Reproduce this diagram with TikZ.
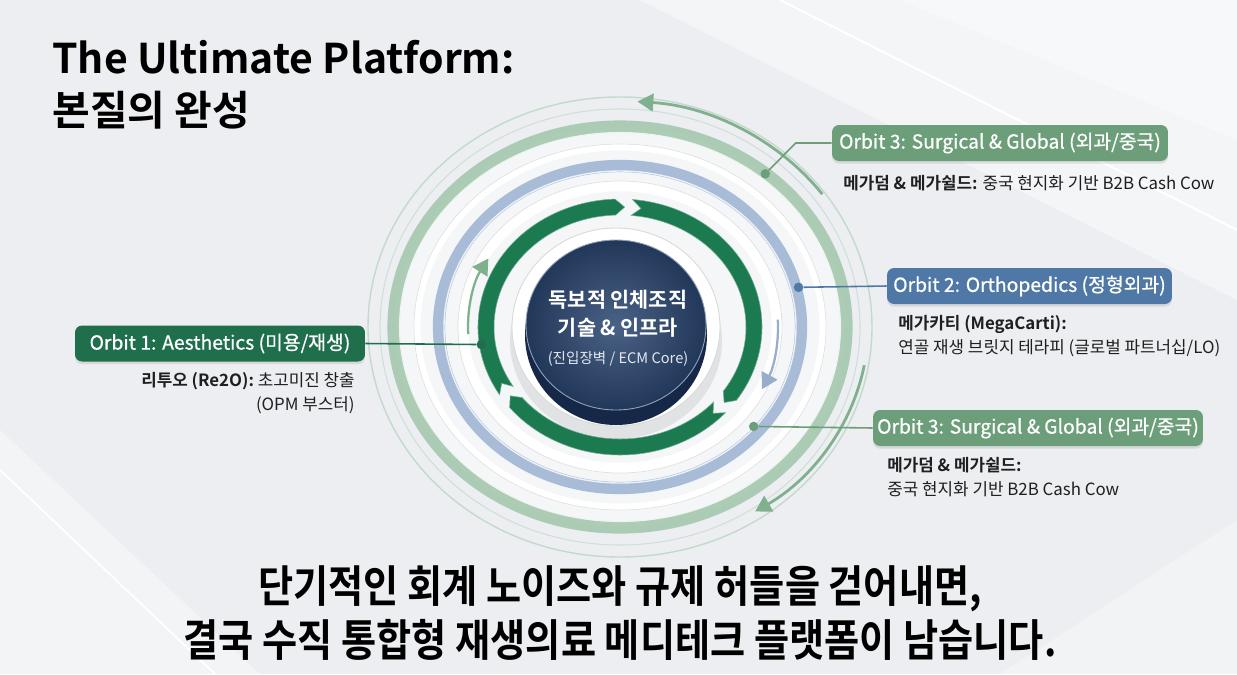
\documentclass[tikz,border=0pt]{standalone}
\usepackage{fontspec}
\setmainfont{Noto Sans CJK KR}[BoldFont={Noto Sans CJK KR Bold}]
\newfontfamily\narrowkr{Noto Sans CJK KR}[BoldFont={Noto Sans CJK KR Bold},FakeStretch=0.87]
\newfontfamily\mediumkr{Noto Sans CJK KR}[FakeBold=0.7]
\usetikzlibrary{calc,arrows.meta,shadows}
\definecolor{bgGray}{RGB}{236,238,241}
\definecolor{coreNavy}{RGB}{42,70,112}
\definecolor{coreDeep}{RGB}{22,40,72}
\definecolor{orbGreen}{RGB}{31,110,76}
\definecolor{orbSage}{RGB}{108,158,122}
\definecolor{orbBlue}{RGB}{79,120,167}
\definecolor{ringSage}{RGB}{160,197,170}
\definecolor{ringBlue}{RGB}{168,188,216}
\definecolor{arrGreen}{RGB}{28,122,80}
\definecolor{flowSage}{RGB}{128,176,142}
\definecolor{flowBlue}{RGB}{150,174,204}

\tikzset{
  orbitbox/.style={rounded corners=4pt,inner sep=0pt,minimum height=0.72cm,text=white,
    font=\mediumkr\fontsize{11}{13}\selectfont,drop shadow={opacity=0.2,shadow xshift=0pt,shadow yshift=-1.5pt}},
  orbitnote/.style={inner sep=0pt,font=\fontsize{9.6}{13.8}\selectfont,text=black!88},
  orbitlink/.style={line width=0.9pt},
  orbitdot/.style={circle,inner sep=0pt,minimum size=0.19cm},
  flowarrow/.style={line width=1.6pt,-{Triangle[length=9pt,width=10pt]}},
}

\begin{document}
\begin{tikzpicture}[x=0.02cm,y=-0.02cm]
\useasboundingbox (0,0) rectangle (1237,674);
% background planes
\fill[bgGray] (0,0) rectangle (1237,674);
\fill[white,opacity=0.45] (640,0) -- (1237,0) -- (1237,300) -- cycle;
\fill[white,opacity=0.35] (900,0) -- (1237,0) -- (1237,140) -- cycle;
\draw[white,line width=1.2pt] (780,0) -- (1237,230);
\fill[white,opacity=0.4] (0,430) -- (260,674) -- (0,674) -- cycle;
\draw[white,line width=1pt] (0,470) -- (215,674);
\fill[white,opacity=0.3] (1237,520) -- (1000,674) -- (1237,674) -- cycle;

% orbits
\begin{scope}[shift={(620,327)},y=0.02cm]
  \fill[white,opacity=0.5] (0,0) ellipse[x radius=226,y radius=200];
  \draw[ringSage!80,line width=0.8pt,opacity=0.7] (0,0) ellipse[x radius=252,y radius=230];
  \draw[ringSage!70,line width=0.6pt,opacity=0.6] (0,0) ellipse[x radius=240,y radius=218];
  \draw[ringSage,line width=7.5pt,opacity=0.85] (0,0) ellipse[x radius=226,y radius=200];
  \draw[white,line width=1.2pt,opacity=0.8] (0,0) ellipse[x radius=220,y radius=194];
  \draw[white,line width=4pt] (0,0) ellipse[x radius=203,y radius=180];
  \draw[black!12,line width=0.4pt] (0,0) ellipse[x radius=206,y radius=183];
  \draw[ringBlue,line width=7pt] (0,0) ellipse[x radius=181,y radius=161];
  \draw[white,line width=0.8pt,opacity=0.8] (0,0) ellipse[x radius=176,y radius=156];
  \draw[white,line width=6pt] (0,0) ellipse[x radius=157,y radius=141];
  \draw[black!12,line width=0.4pt] (0,0) ellipse[x radius=162,y radius=146];
  % flow arrows
  \draw[flowarrow,flowSage] (36:250 and 226) arc[start angle=36,end angle=86,x radius=250,y radius=226];
  \draw[flowarrow,flowSage] (-10:248 and 220) arc[start angle=-10,end angle=-57,x radius=248,y radius=220];
  \draw[flowarrow,flowSage,line width=1.3pt] (183:152 and 137) arc[start angle=183,end angle=150,x radius=152,y radius=137];
  \draw[flowarrow,flowBlue,line width=1.3pt] (3:158 and 142) arc[start angle=3,end angle=-26,x radius=158,y radius=142];
  % inner green chevron ring
  \foreach \s/\e in {212/92,85/-35,-42/-141}{
    \fill[arrGreen,draw=arrGreen!60!white,line width=0.3pt]
      (\s:142 and 128) arc[start angle=\s,end angle=\e,x radius=142,y radius=128]
      -- ({\e-4}:134 and 120) -- (\e:126 and 112)
      arc[start angle=\e,end angle=\s,x radius=126,y radius=112]
      -- ({\s-4}:134 and 120) -- cycle;
  }
  % core disk
  \fill[black,opacity=0.08] (-4,-14) ellipse[x radius=106,y radius=98];
  \fill[white] (-4,0) ellipse[x radius=104,y radius=99];
  \draw[black!15,line width=0.5pt] (-4,0) ellipse[x radius=104,y radius=99];
  \fill[coreDeep] (-4,-8) ellipse[x radius=91,y radius=90];
  \shade[inner color=coreNavy!85!white,outer color=coreNavy!80!black] (-4,2) ellipse[x radius=90,y radius=85];
  \draw[coreNavy!50!white,line width=0.5pt] (-4,2) ellipse[x radius=90,y radius=85];
  \node[text=white,align=center,inner sep=0pt,font=\fontsize{11.8}{15.8}\selectfont] (core) at (-2,-1)
    {\textbf{독보적 인체조직}\\\textbf{기술 \& 인프라}\\{\fontsize{8.3}{15.8}\selectfont\color{white!88!coreNavy}(진입장벽 / ECM Core)}};
  % anchor dots
  \node[orbitdot,fill=orbGreen] (p1) at (188:140 and 126) {};
  \node[orbitdot,fill=orbBlue] (p2) at (14:184 and 164) {};
  \node[orbitdot,fill=orbSage] (p3a) at (50:226 and 200) {};
  \node[orbitdot,fill=orbSage] (p3b) at (-39:172 and 158) {};
\end{scope}

% orbit labels
\node[orbitbox,fill=orbGreen,minimum width=5.8cm] (o1) at (220,343.5) {Orbit 1: Aesthetics (미용/재생)};
\node[orbitbox,fill=orbSage,minimum width=6.72cm] (o3a) at (1000,143) {Orbit 3: Surgical \& Global (외과/중국)};
\node[orbitbox,fill=orbBlue,minimum width=5.7cm] (o2) at (1029.5,286) {Orbit 2: Orthopedics (정형외과)};
\node[orbitbox,fill=orbSage,minimum width=6.6cm] (o3b) at (1038,428) {Orbit 3: Surgical \& Global (외과/중국)};

\draw[orbitlink,orbGreen] (o1.east) -- (p1);
\draw[orbitlink,orbSage] (o3a.west) -- ++(-36,0) -- (p3a);
\draw[orbitlink,orbBlue] (o2.west) -- (p2);
\draw[orbitlink,orbSage] (o3b.west) -- (p3b);

\node[orbitnote,anchor=north east,align=right] (n1) at (355,372) {\textbf{리투오 (Re2O):} 초고미진 창출\\(OPM 부스터)};
\node[orbitnote,anchor=west] (n3a) at (843,183) {\textbf{메가덤 \& 메가쉴드:} 중국 현지화 기반 B2B Cash Cow};
\node[orbitnote,anchor=north west,align=left] (n2) at (898,315) {\textbf{메가카티 (MegaCarti):}\\연골 재생 브릿지 테라피 (글로벌 파트너십/LO)};
\node[orbitnote,anchor=north west,align=left] (n3b) at (887,457) {\textbf{메가덤 \& 메가쉴드:}\\중국 현지화 기반 B2B Cash Cow};

% headline and message
\node[anchor=north west,inner sep=0pt,align=left,font=\fontsize{23.3}{29.5}\selectfont\bfseries] (title) at (52,40) {The Ultimate Platform:\\본질의 완성};
\node[inner sep=0pt,align=center,font=\narrowkr\fontsize{25}{30.5}\selectfont\bfseries] (message) at (620,613)
  {단기적인 회계 노이즈와 규제 허들을 걷어내면,\\결국 수직 통합형 재생의료 메디테크 플랫폼이 남습니다.};
\end{tikzpicture}
\end{document}
